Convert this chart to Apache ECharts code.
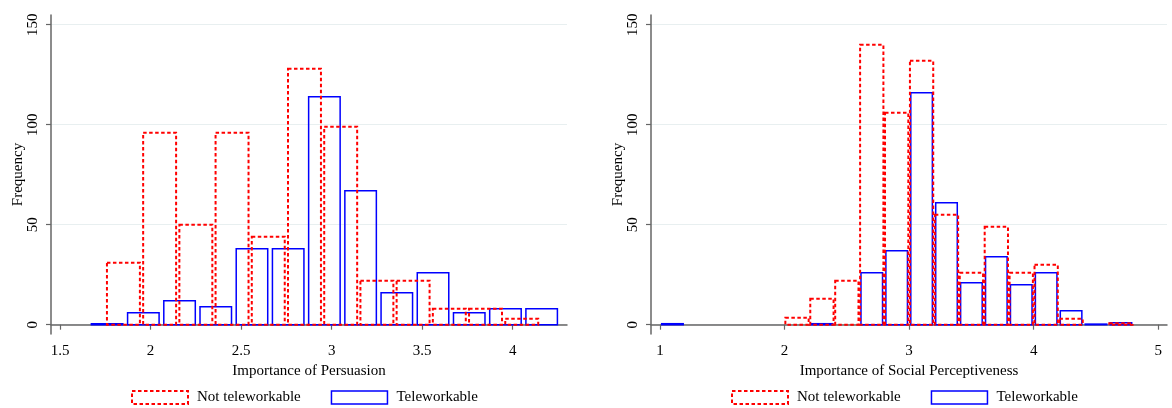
<!DOCTYPE html>
<html>
<head>
<meta charset="utf-8">
<script src="https://cdn.jsdelivr.net/npm/echarts@6/dist/echarts.min.js"></script>
<style>
html,body{margin:0;padding:0;background:#fff;}
#chart{width:1172px;height:408px;}
</style>
</head>
<body>
<div id="chart"></div>
<script>
// ---- Data ----
// Left panel: Importance of Persuasion
const persNotX = [1.85, 2.05, 2.25, 2.45, 2.65, 2.85, 3.05, 3.25, 3.45, 3.65, 3.85, 4.05];
const persNotY = [31, 96, 50, 96, 44, 128, 99, 22, 22, 8, 8, 3];
const persTeleX = [1.76, 1.96, 2.16, 2.36, 2.56, 2.76, 2.96, 3.16, 3.36, 3.56, 3.76, 3.96, 4.16];
const persTeleY = [0.5, 6, 12, 9, 38, 38, 114, 67, 16, 26, 6, 8, 8];
// Right panel: Importance of Social Perceptiveness
const socNotX = [2.1, 2.3, 2.5, 2.7, 2.9, 3.1, 3.3, 3.5, 3.7, 3.9, 4.1, 4.3, 4.7];
const socNotY = [3.5, 13, 22, 140, 106, 132, 55, 26, 49, 26, 30, 3, 0.7];
const socTeleX = [1.1, 2.3, 2.7, 2.9, 3.1, 3.3, 3.5, 3.7, 3.9, 4.1, 4.3, 4.5, 4.7];
const socTeleY = [0.5, 0.5, 26, 37, 116, 61, 21, 34, 20, 26, 7, 0.3, 1];

const yTicks = [0, 50, 100, 150];
const persXTicks = [1.5, 2, 2.5, 3, 3.5, 4];
const socXTicks = [1, 2, 3, 4, 5];

const seriesNames = ['Not teleworkable', 'Teleworkable'];
const yTitle = 'Frequency';
const persTitle = 'Importance of Persuasion';
const socTitle = 'Importance of Social Perceptiveness';

// ---- Styles ----
const FONT = "'Liberation Serif', 'DejaVu Serif', serif";
const FS = 15;
const RED = '#ff0000';
const BLUE = '#0000ff';
const AXIS_COLOR = '#666';
const GRID_COLOR = '#e8eff0';

function zip(xs, ys) { return xs.map((x, i) => [x, ys[i]]); }

function barRenderer(width, stroke, lineWidth, dash) {
  return function (params, api) {
    const x = api.value(0), y = api.value(1);
    const p0 = api.coord([x - width / 2, y]);
    const p1 = api.coord([x + width / 2, 0]);
    return {
      type: 'rect',
      shape: { x: p0[0], y: p0[1], width: p1[0] - p0[0], height: p1[1] - p0[1] },
      style: { fill: 'none', stroke: stroke, lineWidth: lineWidth, lineDash: dash || null }
    };
  };
}

function xAxisFor(gridIndex, min, max, ticks, title) {
  return {
    type: 'value', gridIndex: gridIndex, min: min, max: max,
    name: title, nameLocation: 'middle', nameGap: 25,
    nameTextStyle: { fontFamily: FONT, fontSize: FS, color: '#000' },
    axisLine: { show: true, lineStyle: { color: AXIS_COLOR, width: 1.5 } },
    axisTick: { show: true, length: 5, customValues: ticks, lineStyle: { color: AXIS_COLOR, width: 1.2 } },
    axisLabel: { customValues: ticks, margin: 10, fontFamily: FONT, fontSize: FS, color: '#000' },
    splitLine: { show: false }
  };
}

function yAxisFor(gridIndex) {
  return {
    type: 'value', gridIndex: gridIndex, min: -4.65, max: 154.85,
    name: yTitle, nameLocation: 'middle', nameGap: 24,
    nameTextStyle: { fontFamily: FONT, fontSize: FS, color: '#000' },
    axisLine: { show: true, lineStyle: { color: AXIS_COLOR, width: 1.5 } },
    axisTick: { show: true, length: 5, customValues: yTicks, lineStyle: { color: AXIS_COLOR, width: 1.2 } },
    axisLabel: { customValues: yTicks, rotate: 90, margin: 10, fontFamily: FONT, fontSize: FS, color: '#000' },
    splitLine: { show: true, lineStyle: { color: GRID_COLOR, width: 1.2 } }
  };
}

function legendFor(left) {
  return {
    left: left, top: 390, orient: 'horizontal', padding: 0,
    itemWidth: 56, itemHeight: 13, itemGap: 30,
    textStyle: { fontFamily: FONT, fontSize: FS, color: '#000', padding: [0, 0, 0, 4] },
    data: [
      { name: seriesNames[0], icon: 'rect', itemStyle: { color: 'rgba(0,0,0,0)', borderColor: RED, borderWidth: 2, borderType: [3.5, 2.5] } },
      { name: seriesNames[1], icon: 'rect', itemStyle: { color: 'rgba(0,0,0,0)', borderColor: BLUE, borderWidth: 1.5 } }
    ]
  };
}

const chart = echarts.init(document.getElementById('chart'), null, { renderer: 'canvas' });
chart.setOption({
  backgroundColor: '#ffffff',
  animation: false,
  grid: [
    { left: 51, top: 15, width: 516, height: 319 },
    { left: 651, top: 15, width: 516, height: 319 }
  ],
  xAxis: [
    xAxisFor(0, 1.45, 4.30, persXTicks, persTitle),
    xAxisFor(1, 0.928, 5.07, socXTicks, socTitle)
  ],
  yAxis: [yAxisFor(0), yAxisFor(1)],
  legend: [legendFor(131), legendFor(731)],
  series: [
    { name: seriesNames[1], type: 'custom', xAxisIndex: 0, yAxisIndex: 0, data: zip(persTeleX, persTeleY),
      renderItem: barRenderer(0.174, BLUE, 1.5), itemStyle: { color: BLUE } },
    { name: seriesNames[0], type: 'custom', xAxisIndex: 0, yAxisIndex: 0, data: zip(persNotX, persNotY),
      renderItem: barRenderer(0.182, RED, 2, [3.5, 2.5]), itemStyle: { color: RED } },
    { name: seriesNames[1], type: 'custom', xAxisIndex: 1, yAxisIndex: 1, data: zip(socTeleX, socTeleY),
      renderItem: barRenderer(0.173, BLUE, 1.5), itemStyle: { color: BLUE } },
    { name: seriesNames[0], type: 'custom', xAxisIndex: 1, yAxisIndex: 1, data: zip(socNotX, socNotY),
      renderItem: barRenderer(0.187, RED, 2, [3.5, 2.5]), itemStyle: { color: RED } }
  ]
});
</script>
</body>
</html>
